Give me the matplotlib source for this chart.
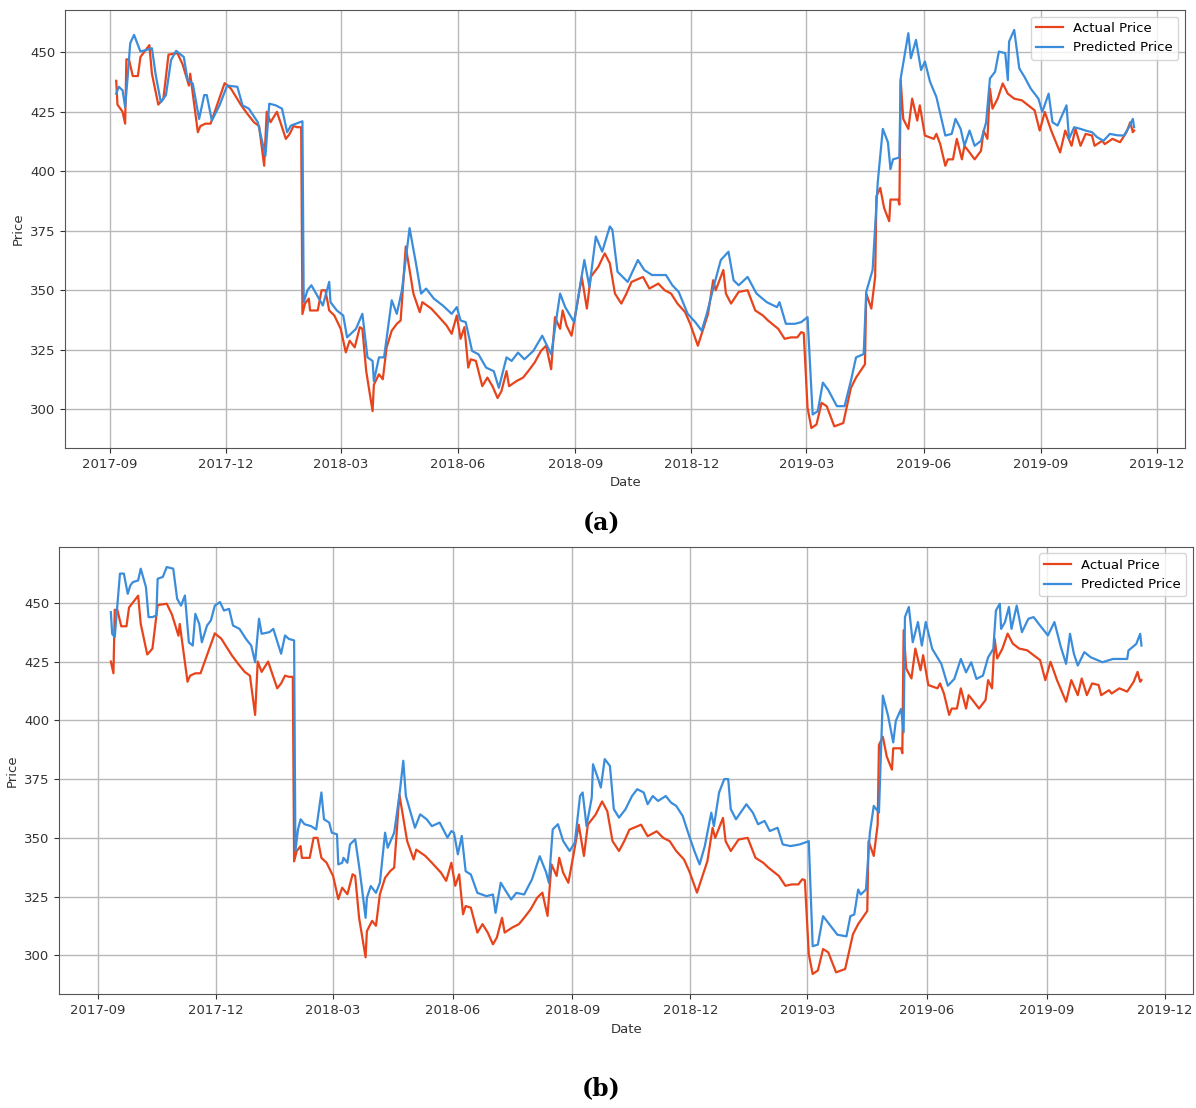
import pandas as pd
import matplotlib
matplotlib.use('Agg')
import matplotlib.pyplot as plt
import matplotlib.dates as mdates

# Actual price (same series in both panels)
actual_dates = [
    '2017-09-06', '2017-09-07', '2017-09-11', '2017-09-13', '2017-09-14', '2017-09-16', '2017-09-19',
    '2017-09-23', '2017-09-25', '2017-10-02', '2017-10-04', '2017-10-09', '2017-10-13', '2017-10-17',
    '2017-10-24', '2017-10-28', '2017-11-02', '2017-11-03', '2017-11-09', '2017-11-11', '2017-11-15',
    '2017-11-19', '2017-11-24', '2017-11-30', '2017-12-05', '2017-12-13', '2017-12-18', '2017-12-23',
    '2017-12-27', '2017-12-31', '2018-01-02', '2018-01-05', '2018-01-10', '2018-01-17', '2018-01-20',
    '2018-01-23', '2018-01-26', '2018-01-29', '2018-01-30', '2018-02-01', '2018-02-04', '2018-02-05',
    '2018-02-11', '2018-02-14', '2018-02-17', '2018-02-20', '2018-02-24', '2018-03-01', '2018-03-05',
    '2018-03-08', '2018-03-12', '2018-03-16', '2018-03-18', '2018-03-21', '2018-03-26', '2018-03-27',
    '2018-03-31', '2018-04-03', '2018-04-06', '2018-04-10', '2018-04-14', '2018-04-17', '2018-04-21',
    '2018-04-27', '2018-05-02', '2018-05-04', '2018-05-11', '2018-05-16', '2018-05-23', '2018-05-27',
    '2018-05-31', '2018-06-03', '2018-06-06', '2018-06-09', '2018-06-11', '2018-06-15', '2018-06-20',
    '2018-06-24', '2018-06-28', '2018-07-02', '2018-07-05', '2018-07-09', '2018-07-11', '2018-07-17',
    '2018-07-22', '2018-07-26', '2018-07-31', '2018-08-05', '2018-08-09', '2018-08-13', '2018-08-16',
    '2018-08-20', '2018-08-22', '2018-08-25', '2018-08-29', '2018-09-02', '2018-09-06', '2018-09-10',
    '2018-09-13', '2018-09-19', '2018-09-24', '2018-09-28', '2018-10-02', '2018-10-07', '2018-10-11',
    '2018-10-15', '2018-10-24', '2018-10-29', '2018-11-05', '2018-11-10', '2018-11-15', '2018-11-20',
    '2018-11-26', '2018-11-30', '2018-12-06', '2018-12-09', '2018-12-14', '2018-12-18', '2018-12-20',
    '2018-12-26', '2018-12-28', '2019-01-01', '2019-01-07', '2019-01-14', '2019-01-20', '2019-01-26',
    '2019-01-30', '2019-02-07', '2019-02-12', '2019-02-17', '2019-02-22', '2019-02-25', '2019-02-27',
    '2019-03-02', '2019-03-05', '2019-03-09', '2019-03-13', '2019-03-17', '2019-03-23', '2019-03-30',
    '2019-04-01', '2019-04-05', '2019-04-09', '2019-04-16', '2019-04-17', '2019-04-21', '2019-04-24',
    '2019-04-25', '2019-04-28', '2019-05-01', '2019-05-05', '2019-05-06', '2019-05-12', '2019-05-13',
    '2019-05-14', '2019-05-16', '2019-05-20', '2019-05-23', '2019-05-27', '2019-05-29', '2019-06-02',
    '2019-06-09', '2019-06-11', '2019-06-14', '2019-06-18', '2019-06-20', '2019-06-24', '2019-06-27',
    '2019-07-01', '2019-07-03', '2019-07-07', '2019-07-11', '2019-07-16', '2019-07-18', '2019-07-21',
    '2019-07-23', '2019-07-25', '2019-07-29', '2019-08-02', '2019-08-06', '2019-08-11', '2019-08-17',
    '2019-08-22', '2019-08-27', '2019-08-31', '2019-09-04', '2019-09-09', '2019-09-16', '2019-09-20',
    '2019-09-25', '2019-09-28', '2019-10-02', '2019-10-06', '2019-10-11', '2019-10-13', '2019-10-19',
    '2019-10-21', '2019-10-27', '2019-11-02', '2019-11-07', '2019-11-10', '2019-11-12', '2019-11-13',
]
actual_price = [
    438, 428, 425, 420, 447, 447, 440,
    440, 448, 453, 441, 428, 430.5, 449,
    449.6, 445, 436, 441, 416.4, 419, 420,
    420, 427.7, 437, 434.7, 427.7, 424, 420.6,
    419, 402.3, 425, 420.6, 425, 413.6, 415.7,
    419, 418.5, 418.5, 340, 344.4, 346.5, 341.5,
    341.5, 350, 350, 341.5, 339.4, 333.8, 323.9,
    328.8, 326, 334.5, 333.8, 316, 299.2, 310.3,
    314.7, 312.6, 326, 333, 335.9, 337.3, 368.4,
    348.6, 340.8, 345, 342.3, 339.4, 335.2, 331.7,
    339.4, 329.6, 334.5, 317.5, 321, 320.3, 309.7,
    313.3, 309.7, 304.7, 307.6, 316, 309.7, 311.9,
    313.3, 316, 319.6, 324.5, 326.7, 316.8, 338.7,
    333.8, 341.5, 335.2, 330.9, 342.9, 355.6, 342.3,
    355.6, 359.9, 365.5, 361.3, 348.6, 344.4, 348.6,
    353.5, 355.6, 350.7, 352.8, 350, 348.6, 344.4,
    340.8, 335.9, 326.7, 331.7, 340.1, 354.2, 350,
    358.5, 348.6, 344.4, 349.3, 350, 341.5, 339.4,
    337.3, 333.8, 329.6, 330.2, 330.2, 332.4, 332,
    300.6, 292.1, 293.6, 302.7, 301.3, 292.8, 294.2,
    299.2, 309, 313.3, 318.9, 348.6, 342.3, 355.6,
    389.5, 393, 384.6, 379, 388.1, 388.1, 386,
    438.3, 422, 417.8, 430.5, 421.3, 427.7, 415,
    413.6, 415.7, 411.4, 402.3, 405, 405, 413.6,
    405, 410.7, 407.9, 405, 408.6, 417.1, 413.6,
    434.7, 426.3, 430.5, 436.9, 432.6, 430.5, 429.8,
    427.7, 425.6, 417.1, 424.9, 417.1, 407.9, 417.1,
    410.7, 417.8, 410.7, 415.7, 415, 410.7, 412.8,
    411.4, 413.6, 412.2, 416.4, 420.6, 416.4, 417.1,
]

# Predicted price, model (a)
pred_a_dates = [
    '2017-09-06', '2017-09-08', '2017-09-11', '2017-09-13', '2017-09-15', '2017-09-17', '2017-09-20',
    '2017-09-25', '2017-09-30', '2017-10-04', '2017-10-07', '2017-10-11', '2017-10-15', '2017-10-19',
    '2017-10-23', '2017-10-29', '2017-11-01', '2017-11-05', '2017-11-10', '2017-11-14', '2017-11-16',
    '2017-11-20', '2017-11-26', '2017-12-02', '2017-12-10', '2017-12-14', '2017-12-19', '2017-12-26',
    '2018-01-01', '2018-01-04', '2018-01-09', '2018-01-14', '2018-01-18', '2018-01-21', '2018-01-25',
    '2018-01-30', '2018-01-31', '2018-02-03', '2018-02-06', '2018-02-15', '2018-02-20', '2018-02-21',
    '2018-02-26', '2018-03-03', '2018-03-06', '2018-03-13', '2018-03-18', '2018-03-22', '2018-03-26',
    '2018-03-27', '2018-03-31', '2018-04-04', '2018-04-10', '2018-04-14', '2018-04-18', '2018-04-24',
    '2018-04-29', '2018-05-03', '2018-05-07', '2018-05-13', '2018-05-20', '2018-05-27', '2018-05-31',
    '2018-06-03', '2018-06-07', '2018-06-12', '2018-06-17', '2018-06-23', '2018-06-29', '2018-07-03',
    '2018-07-09', '2018-07-13', '2018-07-18', '2018-07-23', '2018-07-30', '2018-08-06', '2018-08-13',
    '2018-08-20', '2018-08-24', '2018-08-31', '2018-09-08', '2018-09-12', '2018-09-17', '2018-09-22',
    '2018-09-28', '2018-09-30', '2018-10-04', '2018-10-12', '2018-10-20', '2018-10-25', '2018-10-31',
    '2018-11-11', '2018-11-16', '2018-11-21', '2018-11-28', '2018-12-04', '2018-12-09', '2018-12-13',
    '2018-12-19', '2018-12-24', '2018-12-30', '2019-01-03', '2019-01-07', '2019-01-14', '2019-01-21',
    '2019-01-29', '2019-02-06', '2019-02-08', '2019-02-13', '2019-02-20', '2019-02-25', '2019-03-02',
    '2019-03-06', '2019-03-10', '2019-03-14', '2019-03-18', '2019-03-25', '2019-03-31', '2019-04-05',
    '2019-04-09', '2019-04-15', '2019-04-17', '2019-04-22', '2019-04-26', '2019-04-30', '2019-05-04',
    '2019-05-06', '2019-05-08', '2019-05-13', '2019-05-14', '2019-05-20', '2019-05-22', '2019-05-26',
    '2019-05-30', '2019-06-02', '2019-06-06', '2019-06-11', '2019-06-15', '2019-06-18', '2019-06-23',
    '2019-06-26', '2019-06-30', '2019-07-03', '2019-07-07', '2019-07-11', '2019-07-16', '2019-07-20',
    '2019-07-23', '2019-07-27', '2019-07-30', '2019-08-04', '2019-08-06', '2019-08-07', '2019-08-11',
    '2019-08-15', '2019-08-19', '2019-08-24', '2019-08-30', '2019-09-02', '2019-09-07', '2019-09-10',
    '2019-09-14', '2019-09-21', '2019-09-23', '2019-09-27', '2019-10-02', '2019-10-06', '2019-10-11',
    '2019-10-15', '2019-10-20', '2019-10-25', '2019-10-31', '2019-11-05', '2019-11-09', '2019-11-12',
    '2019-11-13',
]
pred_a_price = [
    432.6, 435.5, 434, 427, 439.7, 453.8, 457.3,
    450.3, 451, 451.7, 440.4, 429, 432, 446.7,
    450.6, 448, 438.3, 436.9, 422, 432, 432,
    421.3, 427.7, 436, 435.5, 427.7, 426.3, 420.6,
    406.5, 428.4, 427.7, 426.3, 416.4, 419.2, 420,
    421, 345, 350, 352.1, 343.6, 353.5, 345,
    341.5, 339.4, 330.2, 333.8, 340.1, 321.8, 320.3,
    311.8, 321.8, 321.8, 345.8, 340.1, 350, 376.1,
    361.3, 348.6, 350.7, 346.5, 343.6, 340.1, 342.9,
    337.3, 336.6, 324.5, 323.1, 317.5, 316, 309,
    321.8, 320.3, 323.8, 321, 324.5, 330.9, 323.1,
    348.6, 342.9, 336.6, 362.7, 351.4, 372.6, 366.2,
    376.8, 375.4, 357.8, 353.5, 362.7, 358.5, 356.4,
    356.4, 352.1, 349.3, 340.1, 336.6, 333, 340.1,
    352.8, 362.7, 366.2, 354.2, 352.1, 355.6, 348.6,
    345, 342.9, 345, 335.9, 335.9, 336.6, 338.7,
    297.8, 299.2, 311.2, 308.3, 301.3, 301.3, 312,
    321.8, 323.2, 349.3, 358.5, 395.2, 417.8, 412.2,
    400.9, 405, 405.8, 439, 458, 447.5, 455.2,
    442.5, 446.1, 437.6, 431.2, 422, 415, 415.7,
    422, 417.8, 410.7, 417.1, 410.7, 412.8, 420.6,
    439, 441.8, 450.3, 449.6, 438.3, 454.5, 459.4,
    443.2, 439.7, 434.7, 430.5, 424.9, 432.6, 420.6,
    419.2, 427.7, 413.6, 418.5, 417.8, 417.1, 416.4,
    414.3, 412.8, 415.7, 415.1, 415, 418.5, 422,
    418.5,
]

# Predicted price, model (b)
pred_b_dates = [
    '2017-09-11', '2017-09-12', '2017-09-14', '2017-09-16', '2017-09-18', '2017-09-21', '2017-09-24',
    '2017-09-26', '2017-09-28', '2017-10-02', '2017-10-04', '2017-10-08', '2017-10-10', '2017-10-13',
    '2017-10-16', '2017-10-17', '2017-10-21', '2017-10-24', '2017-10-29', '2017-11-01', '2017-11-04',
    '2017-11-07', '2017-11-10', '2017-11-13', '2017-11-15', '2017-11-18', '2017-11-20', '2017-11-24',
    '2017-11-27', '2017-11-30', '2017-12-04', '2017-12-07', '2017-12-11', '2017-12-14', '2017-12-19',
    '2017-12-24', '2017-12-28', '2017-12-31', '2018-01-03', '2018-01-05', '2018-01-11', '2018-01-14',
    '2018-01-18', '2018-01-20', '2018-01-23', '2018-01-26', '2018-01-30', '2018-01-31', '2018-02-02',
    '2018-02-04', '2018-02-07', '2018-02-12', '2018-02-16', '2018-02-20', '2018-02-22', '2018-02-26',
    '2018-02-28', '2018-03-04', '2018-03-05', '2018-03-08', '2018-03-09', '2018-03-12', '2018-03-14',
    '2018-03-18', '2018-03-21', '2018-03-23', '2018-03-26', '2018-03-27', '2018-03-30', '2018-04-03',
    '2018-04-06', '2018-04-10', '2018-04-12', '2018-04-17', '2018-04-21', '2018-04-24', '2018-04-26',
    '2018-05-03', '2018-05-07', '2018-05-12', '2018-05-16', '2018-05-22', '2018-05-28', '2018-05-31',
    '2018-06-02', '2018-06-05', '2018-06-08', '2018-06-11', '2018-06-15', '2018-06-20', '2018-06-27',
    '2018-07-02', '2018-07-04', '2018-07-08', '2018-07-12', '2018-07-16', '2018-07-20', '2018-07-26',
    '2018-08-01', '2018-08-07', '2018-08-12', '2018-08-14', '2018-08-17', '2018-08-21', '2018-08-25',
    '2018-08-30', '2018-09-03', '2018-09-07', '2018-09-09', '2018-09-12', '2018-09-16', '2018-09-17',
    '2018-09-21', '2018-09-23', '2018-09-26', '2018-09-30', '2018-10-03', '2018-10-07', '2018-10-12',
    '2018-10-17', '2018-10-21', '2018-10-26', '2018-10-29', '2018-11-02', '2018-11-06', '2018-11-12',
    '2018-11-16', '2018-11-20', '2018-11-25', '2018-11-30', '2018-12-04', '2018-12-08', '2018-12-12',
    '2018-12-17', '2018-12-19', '2018-12-23', '2018-12-27', '2018-12-30', '2019-01-01', '2019-01-05',
    '2019-01-13', '2019-01-18', '2019-01-22', '2019-01-27', '2019-01-31', '2019-02-06', '2019-02-10',
    '2019-02-16', '2019-02-23', '2019-03-02', '2019-03-05', '2019-03-09', '2019-03-13', '2019-03-18',
    '2019-03-24', '2019-03-31', '2019-04-03', '2019-04-06', '2019-04-09', '2019-04-11', '2019-04-15',
    '2019-04-18', '2019-04-21', '2019-04-25', '2019-04-28', '2019-05-02', '2019-05-06', '2019-05-08',
    '2019-05-12', '2019-05-14', '2019-05-15', '2019-05-18', '2019-05-21', '2019-05-25', '2019-05-28',
    '2019-05-31', '2019-06-05', '2019-06-12', '2019-06-17', '2019-06-22', '2019-06-27', '2019-07-01',
    '2019-07-05', '2019-07-09', '2019-07-14', '2019-07-18', '2019-07-22', '2019-07-24', '2019-07-27',
    '2019-07-28', '2019-07-31', '2019-08-03', '2019-08-05', '2019-08-09', '2019-08-13', '2019-08-18',
    '2019-08-22', '2019-08-26', '2019-09-02', '2019-09-07', '2019-09-12', '2019-09-16', '2019-09-19',
    '2019-09-22', '2019-09-25', '2019-09-30', '2019-10-05', '2019-10-14', '2019-10-22', '2019-11-02',
    '2019-11-03', '2019-11-09', '2019-11-12', '2019-11-13',
]
pred_b_price = [
    446, 436.8, 435.4, 448.8, 462.4, 462.4, 453.8,
    457.4, 458.8, 459.5, 464.5, 456.7, 443.9, 443.9,
    444.6, 460.2, 461, 465.2, 464.5, 451.7, 448.8,
    453.1, 433.2, 431.8, 445.3, 441, 433.2, 440.3,
    442.5, 448.8, 450.3, 446.7, 447.4, 440.3, 438.9,
    434.6, 431.8, 424.7, 443.2, 436.8, 437.5, 438.9,
    431.8, 428.3, 436.1, 434.6, 434, 344.4, 353.6,
    357.9, 355.8, 355, 353.6, 369.3, 357.9, 356.5,
    352.2, 351.5, 338.7, 339.4, 341.5, 339.4, 347.2,
    349.4, 338, 329.5, 316, 324.5, 329.5, 326.6,
    330.9, 352.2, 345.8, 352.2, 368, 382.8, 367.8,
    354.3, 360, 357.9, 355, 356.5, 350.1, 352.9,
    352.2, 343, 350.8, 335.8, 334.4, 326.6, 325.2,
    325.9, 318.1, 330.9, 327.3, 323.8, 326.6, 325.9,
    332.3, 342.2, 335.2, 330.9, 353.6, 355.8, 348.7,
    344.4, 348, 367.8, 369.3, 355, 367.1, 381.3,
    375, 371.4, 383.5, 380.6, 362.2, 358.6, 362.2,
    367.8, 370.7, 369.3, 364.3, 367.8, 365.7, 367.8,
    365, 363.6, 359.3, 350.8, 344.4, 338.7, 346.5,
    360.7, 355, 369.3, 375, 375, 362.2, 357.9,
    364.3, 360.7, 355.8, 357.2, 352.9, 354.3, 347.2,
    346.5, 347.2, 348.6, 303.9, 304.6, 316.7, 313.1,
    308.8, 308.1, 316.7, 317.4, 328, 325.9, 328,
    352.2, 363.6, 360.7, 410.5, 402, 390.6, 399.8,
    404.8, 394.9, 443.9, 448.2, 433.2, 441.8, 431.8,
    441.8, 430.4, 424, 414.7, 417.6, 426.1, 420.4,
    424.7, 417.6, 419, 426.8, 430.4, 446.7, 449.6,
    438.9, 441.8, 448.2, 438.9, 448.8, 437.5, 443.2,
    443.9, 441, 436.1, 441.8, 431.1, 424, 436.8,
    428.3, 423.3, 429, 426.8, 424.7, 426.1, 426.1,
    429.7, 432.5, 436.8, 431.8,
]

panel_labels = ['(a)', '(b)']
start_b = '2017-09-11'

actual = pd.Series(actual_price, index=pd.to_datetime(actual_dates))
pred_a = pd.Series(pred_a_price, index=pd.to_datetime(pred_a_dates))
pred_b = pd.Series(pred_b_price, index=pd.to_datetime(pred_b_dates))

red = '#e8441c'
blue = '#3b8ddc'

fig = plt.figure(figsize=(11.96, 11.08), dpi=100)
ax_a = fig.add_axes([0.0546, 0.5957, 0.9362, 0.3953])
ax_b = fig.add_axes([0.0496, 0.1026, 0.9479, 0.4040])

panels = [
    (ax_a, actual, pred_a),
    (ax_b, actual[actual.index >= pd.Timestamp(start_b)], pred_b),
]

for (ax, act, pred), lab in zip(panels, panel_labels):
    ax.plot(act.index, act.values, color=red, lw=1.6, label='Actual Price')
    ax.plot(pred.index, pred.values, color=blue, lw=1.6, label='Predicted Price')
    ax.xaxis.set_major_locator(mdates.MonthLocator(bymonth=[3, 6, 9, 12]))
    ax.xaxis.set_major_formatter(mdates.DateFormatter('%Y-%m'))
    ax.set_yticks([300, 325, 350, 375, 400, 425, 450])
    ax.grid(True, color='#b8b8b8', lw=1.0)
    ax.tick_params(labelsize=9.5, colors='#333333')
    for s in ax.spines.values():
        s.set_color('#555555')
    ax.set_xlabel('Date', fontsize=9.5, color='#333333')
    ax.set_ylabel('Price', fontsize=9.5, color='#333333')
    ax.legend(loc='upper right', fontsize=9.5)

fig.text(0.503, 1 - 523 / 1108, panel_labels[0], ha='center', va='center',
         fontsize=17, fontweight='bold', family='DejaVu Serif')
fig.text(0.503, 1 - 1088 / 1108, panel_labels[1], ha='center', va='center',
         fontsize=17, fontweight='bold', family='DejaVu Serif')

fig.savefig('out.png', dpi=100)
